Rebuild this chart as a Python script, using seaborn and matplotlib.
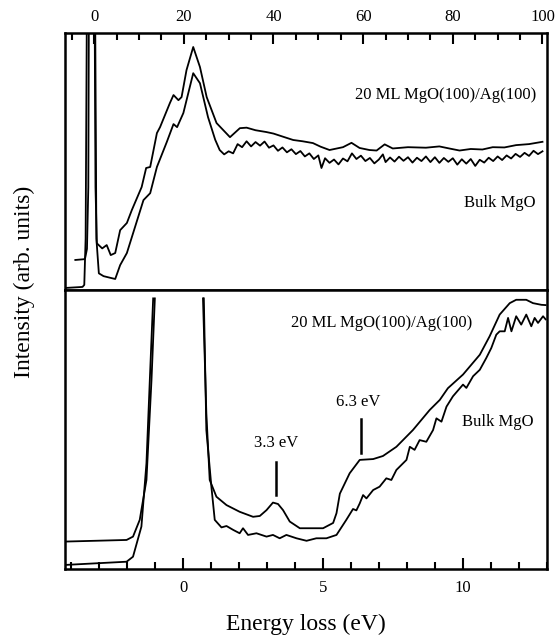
import numpy as np
import pandas as pd
import matplotlib
matplotlib.use('Agg')
import matplotlib.pyplot as plt
from matplotlib.ticker import MultipleLocator
import seaborn as sns

# EELS spectra, 20 ML MgO(100)/Ag(100) vs bulk MgO
# top panel: wide scan (0-100 eV), bottom panel: low-loss region

# --- wide scan, 20 ML film
wide_film_e = [-4.2, -2.2, -2.0, -1.6, -1.3, -1.1, 0.0, 0.3, 0.6, 1.8, 2.8, 3.7, 4.7,
               5.8, 7.3, 8.4, 10.6, 11.6, 12.5, 14.0, 14.7, 16.9, 17.7, 18.8, 19.5,
               20.6, 22.1, 23.6, 25.1, 27.3, 30.3, 32.5, 34.0, 36.0, 38.4, 40.0, 42.1,
               44.4, 46.5, 48.8, 50.5, 52.5, 55.5, 57.4, 59.2, 61.4, 63.0, 64.8, 66.6,
               70.0, 74.0, 77.0, 79.2, 81.5, 84.0, 86.6, 88.9, 91.5, 94.1, 97.0, 100.0]
wide_film_i = [11.7, 12.0, 12.5, 16.0, 40.0, 150.0, 150.0, 40.0, 18.2, 16.2, 17.5, 13.6, 14.4,
               23.3, 26.1, 31.1, 40.1, 47.5, 47.9, 61.1, 63.4, 72.8, 75.9, 73.9, 75.1,
               85.6, 94.6, 86.8, 75.1, 65.0, 59.5, 63.0, 63.2, 62.2, 61.5, 60.9, 59.7,
               58.4, 57.9, 57.2, 55.8, 54.5, 55.6, 57.3, 55.3, 54.5, 54.3, 56.7, 55.1,
               55.6, 55.4, 55.9, 55.1, 54.3, 54.9, 54.7, 55.6, 55.5, 56.4, 56.8, 57.7]

# --- wide scan, bulk MgO (noisy trace)
wide_bulk_e = [-6.5, -2.6, -2.2, -1.9, -1.5, 0.1, 0.5, 1.05, 2.1, 3.5, 4.7, 5.8, 7.3, 11.0,
               12.5, 14.0, 16.2, 17.7, 18.5, 19.9, 22.1, 23.6, 25.4, 27.0,
               28.0, 29.0, 30.0, 31.0, 32.0, 33.0, 34.0, 35.0, 36.0, 37.0, 38.0, 39.0,
               40.0, 41.0, 42.0, 43.0, 44.0, 45.0, 46.0, 47.0, 48.0, 49.0, 50.0, 50.7,
               51.5, 52.5, 53.5, 54.5, 55.5, 56.5, 57.5, 58.5, 59.5, 60.5, 61.5, 62.5,
               63.5, 64.4, 65.0, 66.0, 67.0, 68.0, 69.0, 70.0, 71.0, 72.0, 73.0, 74.0,
               75.0, 76.0, 77.0, 78.0, 79.0, 80.0, 81.0, 82.0, 83.0, 84.0, 85.0, 86.0,
               87.0, 88.0, 89.0, 90.0, 91.0, 92.0, 93.0, 94.0, 95.0, 96.0, 97.0, 98.0,
               99.0, 100.0]
wide_bulk_i = [0.8, 1.2, 2.0, 20.0, 150.0, 150.0, 20.0, 6.5, 5.4, 4.8, 4.3, 9.7, 14.4, 35.0,
               37.7, 47.9, 57.6, 64.6, 63.4, 68.9, 84.4, 80.5, 67.3, 58.5,
               54.5, 52.8, 54.0, 53.2, 56.8, 55.6, 57.9, 55.9, 57.6, 56.2, 57.8, 55.4,
               56.3, 54.2, 55.5, 53.6, 54.8, 52.9, 54.1, 52.0, 53.2, 51.0, 52.4, 47.5,
               51.3, 49.5, 50.8, 48.9, 51.2, 50.1, 53.2, 51.0, 52.3, 50.2, 51.4, 49.3,
               50.8, 52.8, 49.8, 51.6, 50.0, 51.9, 50.3, 51.7, 49.6, 51.5, 50.2, 52.0,
               49.8, 51.7, 49.5, 51.4, 49.9, 51.3, 48.8, 50.9, 49.2, 51.0, 48.3, 50.7,
               49.6, 51.5, 50.2, 52.0, 50.6, 52.4, 51.2, 53.0, 51.8, 53.4, 52.2, 54.2,
               52.9, 54.0]

# --- low-loss region, 20 ML film (elastic peak split at the cut-off)
low_film_left_e = [-4.3, -2.02, -1.79, -1.55, -1.31, -1.13, -1.01]
low_film_left_i = [9.8, 10.4, 11.6, 17.6, 31.9, 67.7, 97.0]
low_film_right_e = [0.71, 0.83, 0.95, 1.19, 1.55, 2.02, 2.5, 2.74, 2.98, 3.21, 3.39, 3.57,
                    3.81, 4.17, 5.0, 5.36, 5.48, 5.6, 5.95, 6.31, 6.79, 7.14, 7.62, 8.21,
                    8.81, 9.17, 9.46, 10.0, 10.6, 10.95, 11.31, 11.67, 11.9, 12.26, 12.5,
                    12.8, 12.95]
low_film_right_i = [97.0, 55.8, 31.9, 25.9, 22.9, 20.5, 18.7, 19.0, 21.1, 23.8, 23.3, 21.1,
                    17.0, 14.6, 14.6, 16.5, 20.0, 27.0, 34.3, 39.1, 39.4, 40.5, 43.8, 49.8,
                    57.0, 60.6, 64.8, 69.7, 76.8, 83.4, 91.2, 95.3, 96.5, 96.5, 95.3,
                    94.7, 94.6]

# --- low-loss region, bulk MgO
low_bulk_left_e = [-4.3, -2.02, -1.79, -1.49, -1.31, -1.19, -1.07]
low_bulk_left_i = [1.4, 2.6, 4.4, 15.2, 37.9, 67.7, 97.0]
low_bulk_right_e = [0.74, 0.83, 1.01, 1.13, 1.37, 1.55, 1.79, 2.02, 2.14, 2.32, 2.62, 2.98,
                    3.21, 3.45, 3.69, 4.05, 4.41, 4.76, 5.12, 5.48, 5.83, 6.07, 6.19, 6.31,
                    6.43, 6.55, 6.79, 7.02, 7.26, 7.44, 7.62, 7.98, 8.1, 8.27, 8.45, 8.69,
                    8.93, 9.05, 9.23, 9.41, 9.64, 10.0, 10.12, 10.36, 10.6, 10.83, 11.01,
                    11.19, 11.31, 11.49, 11.61, 11.73, 11.9, 12.08, 12.26, 12.44, 12.56,
                    12.68, 12.86, 12.95]
low_bulk_right_i = [97.0, 49.8, 29.5, 17.6, 14.9, 15.4, 14.0, 12.8, 14.6, 12.2, 12.8, 11.6,
                    12.2, 11.0, 12.2, 11.0, 10.1, 11.0, 11.0, 12.2, 17.6, 21.5, 21.0, 23.5,
                    26.5, 25.3, 28.3, 29.5, 32.5, 31.9, 35.5, 39.1, 43.8, 42.7, 46.2, 45.6,
                    49.8, 54.0, 52.8, 58.2, 61.9, 66.1, 64.9, 69.1, 71.4, 75.6, 79.2,
                    84.0, 85.2, 85.2, 90.0, 85.2, 90.6, 87.6, 91.2, 87.0, 90.0,
                    88.2, 90.6, 89.5]

plt.rcParams['font.family'] = ['Liberation Serif', 'DejaVu Serif']

fig = plt.figure(figsize=(5.57, 6.37), dpi=100)
ax_top = fig.add_axes([0.1167, 0.5447, 0.8653, 0.4033])
ax_bot = fig.add_axes([0.1167, 0.1068, 0.8653, 0.4379])

lw = 1.3
sns.lineplot(x=wide_film_e, y=wide_film_i, ax=ax_top, color='black', lw=lw, estimator=None, sort=False)
sns.lineplot(x=wide_bulk_e, y=wide_bulk_i, ax=ax_top, color='black', lw=lw, estimator=None, sort=False)

for xs, ys in [(low_film_left_e, low_film_left_i), (low_film_right_e, low_film_right_i),
               (low_bulk_left_e, low_bulk_left_i), (low_bulk_right_e, low_bulk_right_i)]:
    sns.lineplot(x=xs, y=ys, ax=ax_bot, color='black', lw=lw, estimator=None, sort=False)

ax_top.set_xlim(-6.5, 101)
ax_top.set_ylim(0, 100)
ax_bot.set_xlim(-4.22, 13.0)
ax_bot.set_ylim(0, 100)

# top panel: ticks on the top edge
ax_top.xaxis.tick_top()
ax_top.xaxis.set_major_locator(MultipleLocator(20))
ax_top.xaxis.set_minor_locator(MultipleLocator(5))
ax_top.tick_params(axis='x', which='major', direction='in', length=8, width=1.5,
                   labelsize=12, pad=6)
ax_top.tick_params(axis='x', which='minor', direction='in', length=5, width=1.5)
ax_top.set_yticks([])

ax_bot.xaxis.set_major_locator(MultipleLocator(5))
ax_bot.xaxis.set_minor_locator(MultipleLocator(1))
ax_bot.tick_params(axis='x', which='major', direction='in', length=8, width=1.5,
                   labelsize=12, pad=8)
ax_bot.tick_params(axis='x', which='minor', direction='in', length=5, width=1.5)
ax_bot.set_yticks([])

for ax in (ax_top, ax_bot):
    for s in ax.spines.values():
        s.set_linewidth(1.8)
    ax.set_ylabel('')

ax_bot.set_xlabel('Energy loss (eV)', fontsize=17, labelpad=13)
fig.text(0.043, 0.558, 'Intensity (arb. units)', rotation=90, fontsize=17,
         ha='center', va='center')

# curve labels
ax_top.text(78.5, 75.9, '20 ML MgO(100)/Ag(100)', fontsize=12, ha='center', va='center')
ax_top.text(90.4, 33.9, 'Bulk MgO', fontsize=12, ha='center', va='center')
ax_bot.text(7.08, 88.0, '20 ML MgO(100)/Ag(100)', fontsize=12, ha='center', va='center')
ax_bot.text(11.25, 52.8, 'Bulk MgO', fontsize=12, ha='center', va='center')

# loss feature markers
ax_bot.plot([3.31, 3.31], [26.5, 38.5], color='black', lw=1.8)
ax_bot.text(3.31, 45.0, '3.3 eV', fontsize=12, ha='center', va='center')
ax_bot.plot([6.35, 6.35], [41.7, 53.6], color='black', lw=1.8)
ax_bot.text(6.24, 60.0, '6.3 eV', fontsize=12, ha='center', va='center')

fig.savefig('out.png', dpi=100)
